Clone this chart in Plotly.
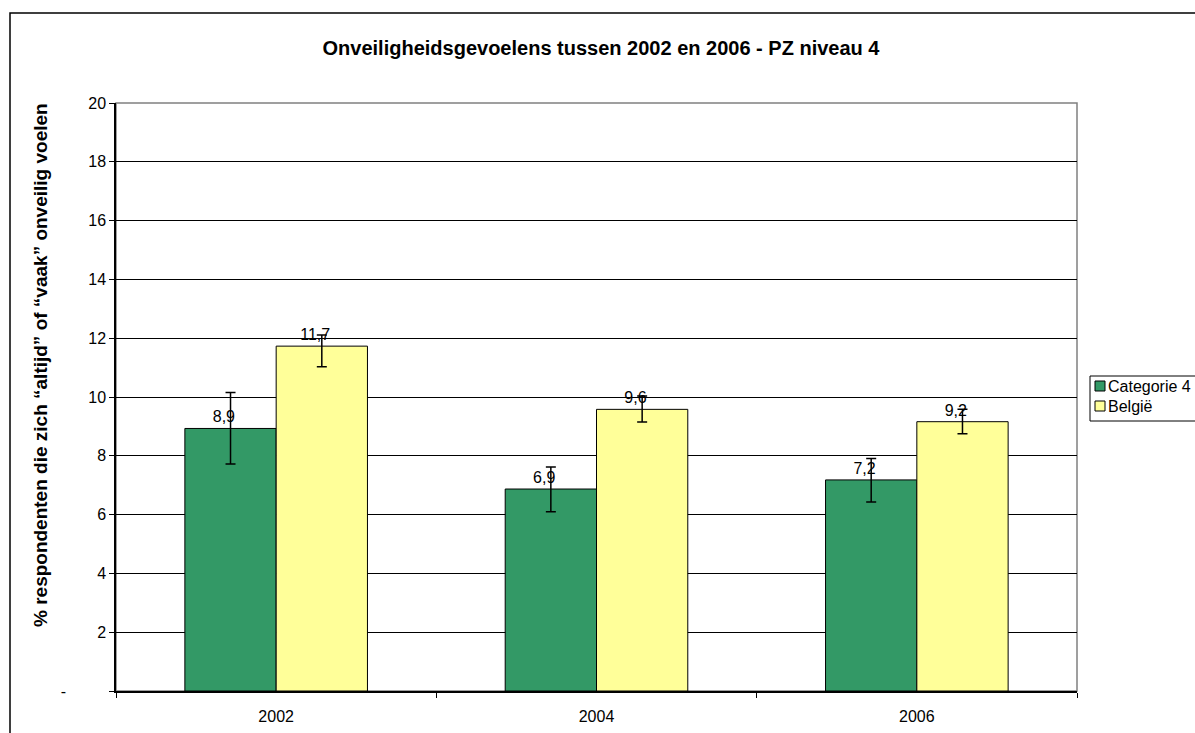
import plotly.graph_objects as go

years = ["2002", "2004", "2006"]
series_names = ["Categorie 4", "België"]
series_colors = ["#339966", "#FFFF99"]
cat4_values = [8.93, 6.87, 7.18]
cat4_err_plus = [1.22, 0.75, 0.73]
cat4_err_minus = [1.21, 0.77, 0.75]
belg_values = [11.73, 9.58, 9.16]
belg_err_plus = [0.38, 0.45, 0.42]
belg_err_minus = [0.70, 0.43, 0.41]
y_ticks = [0, 2, 4, 6, 8, 10, 12, 14, 16, 18, 20]
y_ticktext = ["-" + "\u00a0" * 9, "2", "4", "6", "8", "10", "12", "14", "16", "18", "20"]

FONT = "Liberation Sans, Arial, sans-serif"
W, H = 1195, 733
L, R, T, B = 116, 118, 103, 42
PW, PH = W - L - R, H - T - B


def px_x(x):
    return (x - L) / PW


def px_y(y):
    return (H - B - y) / PH


def fmt(v):
    # Excel-style label, drawn slightly left of the bar centre
    return f"{v:.1f}".replace(".", ",") + "\u00a0" * 3


fig = go.Figure()
for name, color, vals, ep, em in [
    (series_names[0], series_colors[0], cat4_values, cat4_err_plus, cat4_err_minus),
    (series_names[1], series_colors[1], belg_values, belg_err_plus, belg_err_minus),
]:
    fig.add_trace(go.Bar(
        name=name, x=years, y=vals,
        marker=dict(color=color, line=dict(color="black", width=1)),
        text=[fmt(v) for v in vals], textposition="outside",
        textfont=dict(family=FONT, size=16, color="black"),
        error_y=dict(type="data", symmetric=False, array=ep, arrayminus=em,
                     color="black", thickness=1.5, width=5),
        cliponaxis=False, showlegend=False,
    ))

fig.update_layout(
    width=W, height=H, autosize=False,
    margin=dict(l=L, r=R, t=T, b=B),
    paper_bgcolor="white", plot_bgcolor="white",
    font=dict(family=FONT, size=16, color="black"),
    barmode="group", bargap=0.43, bargroupgap=0,
    showlegend=False,
    title=dict(text="<b>Onveiligheidsgevoelens tussen 2002 en 2006 - PZ niveau 4</b>",
               x=601 / W, xanchor="center", y=1 - 48 / H, yanchor="middle",
               font=dict(family=FONT, size=20, color="black"),
               automargin=False),
)

fig.update_yaxes(
    range=[0, 20], tickvals=y_ticks, ticktext=y_ticktext,
    showgrid=True, gridcolor="black", gridwidth=1,
    showline=True, linecolor="black", linewidth=1.5,
    ticks="outside", ticklen=5, tickcolor="black",
    tickfont=dict(family=FONT, size=16, color="black"),
    zeroline=False, mirror=False, automargin=False,
)
fig.update_xaxes(
    type="category", tickson="boundaries",
    showline=True, linecolor="black", linewidth=1.5,
    ticks="outside", ticklen=5, tickcolor="black",
    ticklabelstandoff=10,
    tickfont=dict(family=FONT, size=16, color="black"),
    showgrid=False, automargin=False,
)

# plot area border (gray)
fig.add_shape(type="rect", xref="paper", yref="paper", x0=0, y0=0, x1=1, y1=1,
              line=dict(color="#808080", width=1.5), layer="below")

# y-axis title
fig.add_annotation(
    text="<b>% respondenten die zich “altijd” of “vaak” onveilig voelen</b>",
    xref="paper", yref="paper", x=px_x(40), y=px_y(365),
    xanchor="center", yanchor="middle", textangle=-90, showarrow=False,
    font=dict(family=FONT, size=19, color="black"),
)

# outer chart border
fig.add_shape(type="rect", xref="paper", yref="paper",
              x0=px_x(10), x1=px_x(1205), y0=px_y(745), y1=px_y(13),
              line=dict(color="black", width=1.5))

# legend (Excel-style, partly cut by the right edge)
fig.add_shape(type="rect", xref="paper", yref="paper",
              x0=px_x(1090), x1=px_x(1210), y0=px_y(421), y1=px_y(376),
              line=dict(color="black", width=1), fillcolor="white")
for i, (name, color) in enumerate(zip(series_names, series_colors)):
    cy = 386 + i * 20
    fig.add_shape(type="rect", xref="paper", yref="paper",
                  x0=px_x(1095), x1=px_x(1105), y0=px_y(cy + 5), y1=px_y(cy - 5),
                  line=dict(color="black", width=1), fillcolor=color)
    fig.add_annotation(text=name, xref="paper", yref="paper",
                       x=px_x(1106), y=px_y(cy), xanchor="left", yanchor="middle",
                       showarrow=False, font=dict(family=FONT, size=16, color="black"))

fig.write_html(
    "out.html",
    config={"responsive": False, "displayModeBar": False},
    post_script="document.body.style.margin='0';document.body.style.overflow='hidden';",
)
